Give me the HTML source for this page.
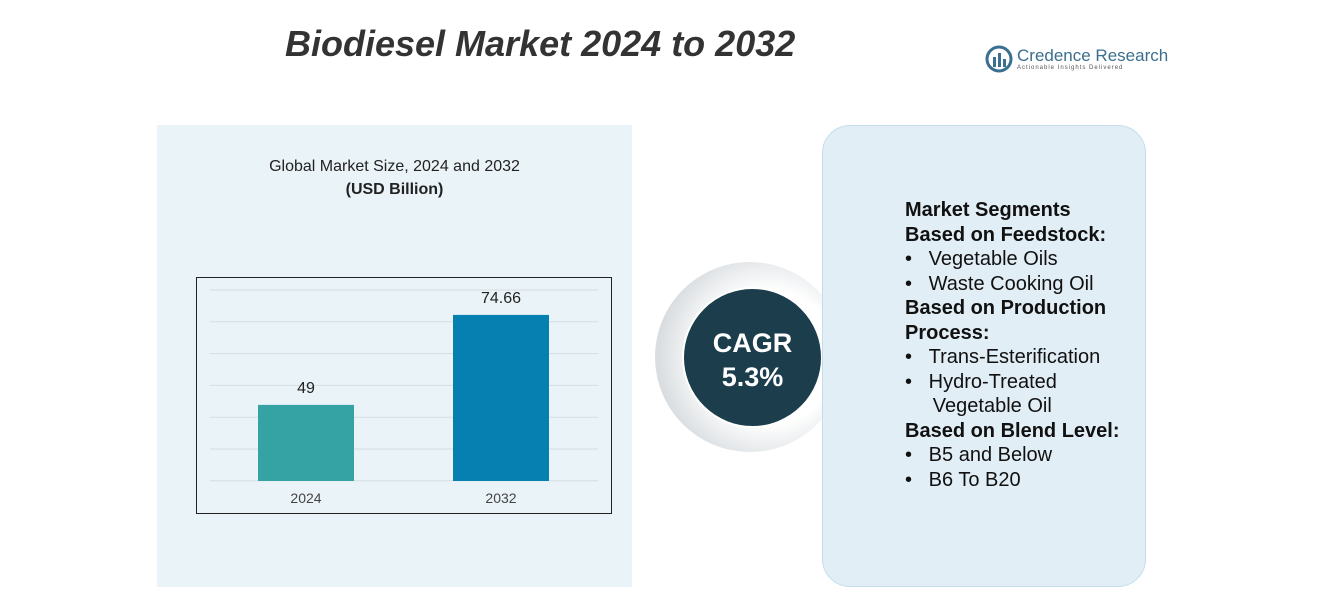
<!DOCTYPE html>
<html><head><meta charset="utf-8"><style>
body{margin:0;width:1333px;height:597px;background:#fff;position:relative;overflow:hidden;font-family:"Liberation Sans",sans-serif}
.abs{position:absolute}
</style></head><body>
<div class="abs" style="left:285px;top:23px;font-size:36px;font-weight:bold;font-style:italic;color:#333">Biodiesel Market 2024 to 2032</div>
<div class="abs" style="left:985px;top:45px;">
 <svg width="28" height="28" style="position:absolute;left:0;top:0"><circle cx="14" cy="14" r="12" fill="none" stroke="#3a6f8f" stroke-width="3"/><rect x="8" y="12" width="3" height="10" fill="#3a6f8f"/><rect x="13" y="8" width="3" height="14" fill="#3a6f8f"/><rect x="18" y="14" width="3" height="8" fill="#3a6f8f"/></svg>
 <div style="position:absolute;left:32px;top:1px;font-size:17px;color:#3a6f8f;white-space:nowrap">Credence Research</div>
 <div style="position:absolute;left:32px;top:20px;font-size:6px;color:#555;letter-spacing:1px;white-space:nowrap">Actionable Insights Delivered</div>
</div>
<div class="abs" style="left:157px;top:125px;width:475px;height:462px;background:#eaf3f8"></div>
<div class="abs" style="left:157px;top:155px;width:475px;text-align:center;font-size:16px;line-height:23px;color:#222">Global Market Size, 2024 and 2032<br><b>(USD Billion)</b></div>
<svg class="abs" style="left:0;top:0" width="1333" height="597">
<rect x="196.5" y="277.5" width="415" height="236" fill="none" stroke="#222" stroke-width="1"/>
<g id="grid"></g><g id="bars"></g>
</svg>
<div class="abs" style="left:655px;top:262px;width:190px;height:190px;border-radius:50%;background:radial-gradient(circle at 60% 50%,#fff 45%,#d9dde0 75%,#eef0f2 100%)"></div>
<div class="abs" style="left:682px;top:287px;width:141px;height:141px;border-radius:50%;background:#1b3d4c;color:#fff;text-align:center;font-weight:bold;font-size:27px;line-height:34px;box-sizing:border-box;padding-top:37px;border:2px solid #fff">CAGR<br>5.3%</div>
<div class="abs" style="left:822px;top:125px;width:324px;height:462px;border-radius:28px;background:#e2eef6;border:1px solid #c5dcea;box-sizing:border-box"></div>
<div class="abs" style="left:905px;top:198px;font-size:20px;line-height:24.5px;color:#111">
<b>Market Segments</b><br><b>Based on Feedstock:</b><br>•&nbsp;&nbsp;&nbsp;Vegetable Oils<br>•&nbsp;&nbsp;&nbsp;Waste Cooking Oil<br><b>Based on Production</b><br><b>Process:</b><br>•&nbsp;&nbsp;&nbsp;Trans-Esterification<br>•&nbsp;&nbsp;&nbsp;Hydro-Treated<br>&nbsp;&nbsp;&nbsp;&nbsp;&nbsp;Vegetable Oil<br><b>Based on Blend Level:</b><br>•&nbsp;&nbsp;&nbsp;B5 and Below<br>•&nbsp;&nbsp;&nbsp;B6 To B20</div>
<script>
const categories=["2024","2032"];
const values=[49,74.66];
const labels=["49","74.66"];
const colors=["#35a3a3","#0580b0"];
const y0=27.3,base=481,k=3.507;
const ys=v=>base-(v-y0)*k;
const ns="http://www.w3.org/2000/svg";
const g=document.getElementById('grid'),b=document.getElementById('bars');
for(let i=0;i<7;i++){const l=document.createElementNS(ns,'line');const y=290+i*31.8;
l.setAttribute('x1',210);l.setAttribute('x2',598);l.setAttribute('y1',y);l.setAttribute('y2',y);l.setAttribute('stroke','#d6dde2');


g.appendChild(l);}
categories.forEach((c,i)=>{const x=258+i*195,w=96,y=ys(values[i]);
const r=document.createElementNS(ns,'rect');r.setAttribute('x',x);r.setAttribute('y',y);r.setAttribute('width',w);r.setAttribute('height',base-y);r.setAttribute('fill',colors[i]);


b.appendChild(r);
const t=document.createElementNS(ns,'text');t.setAttribute('x',x+w/2);t.setAttribute('y',y-12);t.setAttribute('text-anchor','middle');t.setAttribute('font-size','16');t.setAttribute('fill','#222');t.textContent=labels[i];


b.appendChild(t);
const a=document.createElementNS(ns,'text');a.setAttribute('x',x+w/2);a.setAttribute('y',503);a.setAttribute('text-anchor','middle');a.setAttribute('font-size','14');a.setAttribute('fill','#444');a.textContent=c;


b.appendChild(a);});
</script>
</body></html>
